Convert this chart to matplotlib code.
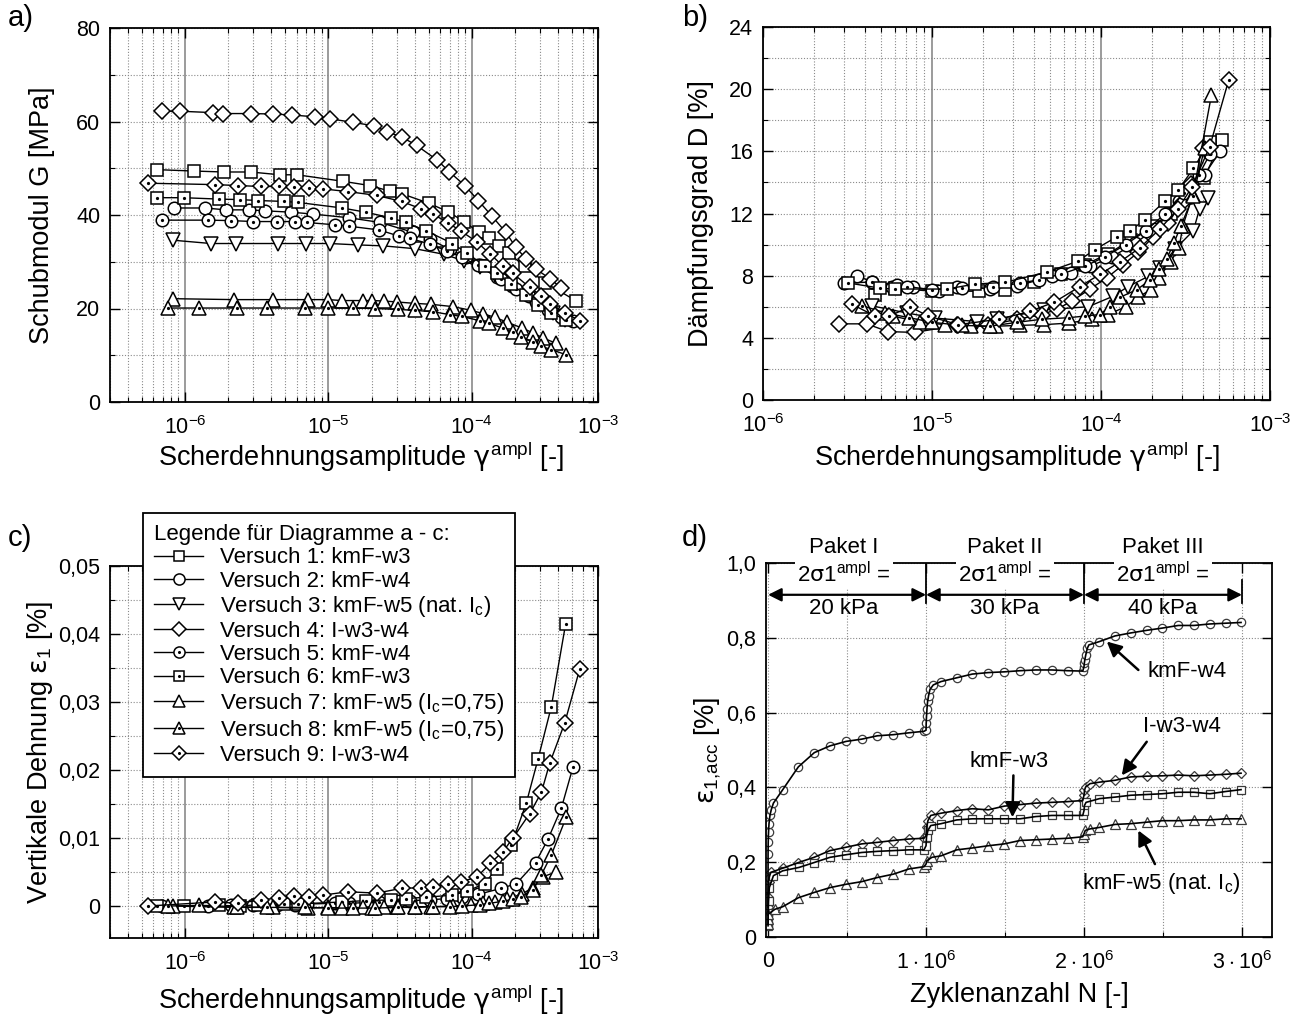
"""Recreate four-panel soil test figure (G, D, eps_1 vs. gamma_ampl; eps_acc vs. N)."""
import matplotlib
matplotlib.use("Agg")
import matplotlib.pyplot as plt
from matplotlib.ticker import FixedLocator, LogLocator, MultipleLocator, NullFormatter
import numpy as np

plt.rcParams['font.family'] = ['Liberation Sans', 'DejaVu Sans']
plt.rcParams['mathtext.fontset'] = 'custom'
plt.rcParams['mathtext.rm'] = 'Liberation Sans'
plt.rcParams['mathtext.it'] = 'DejaVu Sans'      # greek letters in math
plt.rcParams['mathtext.sf'] = 'Liberation Sans'
plt.rcParams['mathtext.bf'] = 'Liberation Sans:bold'

# ---------------- panel a / c : shear strain amplitude -----------------
g1 = [6.4e-7, 1.16e-6, 1.87e-6, 2.87e-6, 4.59e-6, 6.06e-6, 1.27e-5, 1.95e-5, 2.68e-5, 3.29e-5,
      5.04e-5, 6.84e-5, 8.84e-5, 1.12e-4, 1.31e-4, 1.54e-4, 1.82e-4, 2.34e-4, 3.26e-4, 5.37e-4]
G1 = [49.7, 49.4, 49.2, 49.2, 48.6, 48.6, 47.2, 46.3, 45.1, 44.5,
      42.5, 40.7, 38.6, 36.3, 35.0, 33.3, 31.8, 29.0, 25.5, 21.6]
g2 = [8.4e-7, 1.38e-6, 1.93e-6, 2.8e-6, 3.6e-6, 5.5e-6, 7.8e-6, 1.4e-5, 2.3e-5, 3.9e-5,
      5.1e-5, 7.0e-5, 9.1e-5, 1.14e-4, 1.49e-4, 1.9e-4, 2.5e-4, 3.4e-4, 4.2e-4]
G2 = [41.5, 41.5, 41.1, 41.1, 40.9, 40.6, 40.2, 39.4, 38.4, 36.3,
      34.8, 32.7, 31.0, 29.2, 26.7, 24.9, 22.6, 20.2, 18.7]
g3 = [8.3e-7, 1.52e-6, 2.27e-6, 4.47e-6, 6.97e-6, 1.02e-5, 1.61e-5, 2.41e-5, 4.0e-5, 6.4e-5,
      8.8e-5, 1.14e-4, 1.45e-4, 1.84e-4, 2.34e-4, 2.98e-4, 3.67e-4, 4.5e-4]
G3 = [34.6, 33.9, 33.9, 33.9, 33.9, 33.9, 33.6, 33.4, 32.8, 31.6,
      30.2, 28.8, 27.1, 25.2, 23.0, 20.9, 19.1, 17.6]
g4 = [6.9e-7, 9.2e-7, 1.56e-6, 1.85e-6, 2.87e-6, 4.08e-6, 5.54e-6, 8.05e-6, 1.02e-5, 1.49e-5,
      2.07e-5, 2.57e-5, 3.24e-5, 4.12e-5, 5.77e-5, 6.95e-5, 8.94e-5, 1.11e-4, 1.38e-4, 1.73e-4,
      2.03e-4, 2.41e-4, 2.82e-4, 3.5e-4, 4.22e-4]
G4 = [62.2, 62.2, 61.9, 61.7, 61.7, 61.6, 61.4, 61.0, 60.6, 59.8,
      59.1, 57.8, 56.7, 54.9, 51.7, 49.3, 46.3, 43.1, 39.8, 36.3,
      33.1, 30.5, 28.4, 26.4, 24.4]
g5 = [6.95e-7, 1.44e-6, 2.11e-6, 2.99e-6, 4.35e-6, 5.9e-6, 7.1e-6, 1.11e-5, 1.4e-5, 2.26e-5,
      3.1e-5, 3.7e-5, 5.1e-5, 6.7e-5, 8.5e-5, 1.1e-4, 1.61e-4, 2.05e-4, 2.79e-4, 3.4e-4,
      4.22e-4, 5.08e-4]
G5 = [38.9, 38.9, 38.8, 38.6, 38.6, 38.6, 38.4, 37.9, 37.6, 36.8,
      35.5, 35.0, 33.8, 32.3, 31.0, 29.2, 26.3, 24.2, 21.3, 19.6,
      18.2, 17.3]
eps5 = [0.0, 0.0, 0.0001, 0.0001, 0.0002, 0.0002, 0.0003, 0.0004, 0.0004, 0.0006,
        0.0007, 0.0008, 0.0009, 0.0011, 0.0013, 0.0017, 0.0026, 0.0033, 0.0064, 0.0098,
        0.0144, 0.0204]
g6 = [6.35e-7, 9.8e-7, 1.73e-6, 2.41e-6, 3.21e-6, 4.92e-6, 6.1e-6, 1.25e-5, 1.82e-5, 2.73e-5,
      3.47e-5, 4.83e-5, 7.34e-5, 9.33e-5, 1.23e-4, 1.49e-4, 1.89e-4, 2.4e-4, 2.9e-4, 3.59e-4,
      4.52e-4]
G6 = [43.7, 43.7, 43.4, 43.3, 43.1, 42.9, 42.7, 41.5, 40.6, 39.4,
      38.4, 36.6, 33.9, 31.8, 29.1, 27.5, 25.2, 22.8, 20.8, 19.0,
      17.6]
eps6 = [0.0, 0.0, 0.0001, 0.0, 0.0002, 0.0003, 0.0003, 0.0006, 0.0008, 0.0009,
        0.0011, 0.0013, 0.0016, 0.0022, 0.0033, 0.0055, 0.0090, 0.0151, 0.0216, 0.0293,
        0.0415]
g7 = [8.2e-7, 2.21e-6, 4.08e-6, 7.2e-6, 9.97e-6, 1.24e-5, 1.75e-5, 2.03e-5, 2.45e-5, 2.99e-5,
      4.0e-5, 5.2e-5, 7.4e-5, 9.95e-5, 1.2e-4, 1.45e-4, 1.76e-4, 2.25e-4, 2.67e-4, 3.14e-4,
      3.85e-4]
G7 = [22.1, 21.9, 21.9, 21.9, 21.9, 21.7, 21.7, 21.7, 21.6, 21.4,
      21.1, 20.9, 20.4, 19.6, 18.9, 18.1, 17.1, 15.8, 14.8, 13.7,
      12.6]
eps7 = [0.0, -0.0002, -0.0002, -0.0003, -0.0002, -0.0003, -0.0002, -0.0003, -0.0002, -0.0002,
        -0.0001, -0.0001, 0.0, 0.0002, 0.0004, 0.0006, 0.0010, 0.0018, 0.0027, 0.0043,
        0.0050]
g8 = [7.6e-7, 1.26e-6, 2.29e-6, 3.71e-6, 6.86e-6, 9.97e-6, 1.48e-5, 2.11e-5, 3.06e-5, 4.0e-5,
      5.37e-5, 7.0e-5, 8.5e-5, 1.14e-4, 1.33e-4, 1.65e-4, 1.94e-4, 2.22e-4, 2.67e-4, 3.06e-4,
      3.59e-4, 4.57e-4]
G8 = [20.1, 20.1, 20.1, 20.1, 20.1, 20.1, 20.1, 20.0, 19.8, 19.6,
      19.3, 18.7, 18.3, 17.4, 16.8, 15.8, 14.9, 14.0, 12.8, 11.9,
      11.2, 10.1]
eps8 = [0.0, 0.0001, -0.0001, -0.0002, -0.0002, -0.0003, -0.0003, -0.0003, -0.0002, -0.0002,
        -0.0001, -0.0001, 0.0, 0.0002, 0.0004, 0.0007, 0.0010, 0.0014, 0.0023, 0.0046,
        0.0075, 0.0131]
g9 = [5.5e-7, 1.62e-6, 2.35e-6, 3.37e-6, 4.54e-6, 5.75e-6, 7.35e-6, 9.12e-6, 1.37e-5, 2.17e-5,
      3.24e-5, 4.46e-5, 5.37e-5, 6.84e-5, 8.38e-5, 1.08e-4, 1.35e-4, 1.65e-4, 1.94e-4, 2.54e-4,
      3.06e-4, 3.5e-4, 4.45e-4, 5.66e-4]
G9 = [46.8, 46.5, 46.3, 46.1, 46.1, 46.0, 45.7, 45.6, 45.0, 44.2,
      42.9, 41.3, 40.2, 38.3, 36.6, 34.3, 31.6, 29.1, 27.5, 24.5,
      22.7, 20.9, 19.1, 17.4]
eps9 = [0.0, 0.0006, 0.0004, 0.0009, 0.0012, 0.0015, 0.0013, 0.0016, 0.0021, 0.0019,
        0.0026, 0.0027, 0.0028, 0.0033, 0.0036, 0.0042, 0.0063, 0.0080, 0.0100, 0.0136,
        0.0167, 0.0210, 0.0269, 0.0348]

# ---------------- panel b : damping ratio -----------------
gb1 = [4.6e-6, 6.0e-6, 1.0e-5, 1.9e-5, 2.7e-5, 4.0e-5, 5.8e-5, 8.0e-5, 1.1e-4, 1.5e-4,
       2.0e-4, 2.6e-4, 3.2e-4, 4.07e-4, 5.2e-4]
D1 = [6.75, 7.2, 7.0, 7.0, 7.1, 7.6, 8.1, 8.7, 9.4, 10.3, 11.2, 12.0, 13.0, 14.3, 16.7]
gb2 = [3.6e-6, 4.4e-6, 5.8e-6, 7.7e-6, 1.1e-5, 1.4e-5, 2.2e-5, 3.2e-5, 5.1e-5, 6.6e-5,
       8.6e-5, 1.16e-4, 1.59e-4, 2.1e-4, 2.9e-4, 4.1e-4, 5.06e-4]
D2 = [8.0, 7.6, 7.3, 7.25, 7.0, 7.3, 7.15, 7.35, 7.95, 8.2, 8.6, 9.2, 10.1, 11.0, 12.8, 14.5, 16.0]
gb3 = [4.4e-6, 7.1e-6, 1.04e-5, 1.84e-5, 2.42e-5, 4.6e-5, 8.4e-5, 1.17e-4, 1.45e-4, 1.9e-4,
       2.23e-4, 2.74e-4, 3.52e-4, 3.83e-4, 4.32e-4]
D3 = [6.06, 5.6, 5.27, 5.05, 5.2, 5.8, 6.0, 6.66, 7.3, 7.95, 8.5, 9.7, 10.9, 12.3, 13.0]
gb4 = [2.8e-6, 4.1e-6, 5.5e-6, 7.9e-6, 1.4e-5, 2.15e-5, 3.2e-5, 4.5e-5, 5.5e-5, 6.7e-5,
       8.6e-5, 1.08e-4, 1.35e-4, 1.66e-4, 2.04e-4, 2.5e-4, 3.0e-4, 3.4e-4, 4.0e-4]
D4 = [4.9, 4.9, 4.4, 4.35, 4.8, 4.8, 5.2, 5.5, 5.85, 6.35, 7.14, 7.85, 8.7, 9.5, 10.5, 11.4,
      12.7, 13.9, 16.2]
gb5 = [3.0e-6, 4.4e-6, 6.2e-6, 7.1e-6, 1.0e-5, 1.5e-5, 2.3e-5, 3.3e-5, 4.3e-5, 5.8e-5,
       8.0e-5, 1.05e-4, 1.4e-4, 1.85e-4, 2.4e-4, 3.1e-4, 3.8e-4, 4.4e-4]
D5 = [7.5, 7.6, 7.4, 7.3, 7.1, 7.2, 7.3, 7.5, 7.75, 8.1, 8.6, 9.2, 10.0, 10.9, 12.0, 13.3,
      14.5, 15.8]
gb6 = [3.2e-6, 4.9e-6, 6.0e-6, 1.22e-5, 1.8e-5, 2.7e-5, 4.8e-5, 7.3e-5, 9.2e-5, 1.24e-4,
       1.49e-4, 1.82e-4, 2.39e-4, 2.86e-4, 3.52e-4, 4.4e-4]
D6 = [7.53, 7.2, 7.14, 7.14, 7.46, 7.57, 8.24, 8.93, 9.68, 10.5, 10.9, 11.6, 12.8, 13.5,
      14.9, 16.6]
gb7 = [5.9e-6, 8.5e-6, 1.2e-5, 1.7e-5, 2.4e-5, 3.3e-5, 4.6e-5, 6.5e-5, 8.8e-5, 1.1e-4,
       1.4e-4, 1.65e-4, 1.97e-4, 2.2e-4, 2.58e-4, 2.9e-4, 3.05e-4, 3.5e-4, 4.5e-4]
D7 = [5.4, 5.0, 4.85, 4.75, 4.75, 4.8, 4.85, 4.95, 5.2, 5.5, 6.0, 6.6, 7.1, 7.85, 8.9, 9.8,
      11.2, 13.2, 19.6]
gb8 = [3.84e-6, 5.3e-6, 7.3e-6, 1.0e-5, 1.5e-5, 2.2e-5, 3.2e-5, 4.5e-5, 6.5e-5, 8.0e-5,
       9.8e-5, 1.13e-4, 1.29e-4, 1.63e-4, 1.94e-4, 2.2e-4, 2.45e-4, 2.7e-4, 2.97e-4, 3.5e-4,
       4.1e-4]
D8 = [6.08, 5.6, 5.3, 5.0, 4.8, 4.75, 5.0, 5.2, 5.3, 5.4, 5.5, 6.0, 6.6, 7.1, 7.7, 8.4,
      9.1, 10.1, 11.2, 13.1, 16.2]
gb9 = [3.35e-6, 4.6e-6, 5.6e-6, 7.4e-6, 9.5e-6, 1.43e-5, 2.5e-5, 3.8e-5, 5.3e-5, 7.5e-5,
       9.9e-5, 1.3e-4, 1.7e-4, 2.23e-4, 2.86e-4, 3.45e-4, 4.4e-4, 5.7e-4]
D9 = [6.17, 5.4, 5.4, 6.0, 5.4, 4.85, 5.2, 5.7, 6.3, 7.3, 8.1, 8.9, 9.8, 11.0, 12.3, 13.7,
      16.3, 20.6]

# ---------------- panel d : accumulated strain vs. cycles (N in 10^6) -----------------
N_w4 = [0.0, 0.0001, 0.001, 0.003, 0.006, 0.012, 0.020, 0.034, 0.093, 0.192, 0.293, 0.392,
        0.494, 0.593, 0.692, 0.793, 0.892, 0.987,
        1.0001, 1.001, 1.003, 1.006, 1.010, 1.016, 1.025, 1.046, 1.095, 1.194, 1.293, 1.394,
        1.496, 1.595, 1.694, 1.796, 1.897, 1.992,
        2.0001, 2.002, 2.005, 2.011, 2.021, 2.031, 2.098, 2.196, 2.296, 2.397, 2.496, 2.597,
        2.696, 2.797, 2.896, 2.994]
eps_w4 = [0.058, 0.222, 0.253, 0.280, 0.303, 0.325, 0.340, 0.358, 0.394, 0.455, 0.493, 0.511,
          0.523, 0.529, 0.538, 0.541, 0.546, 0.550,
          0.553, 0.571, 0.590, 0.610, 0.630, 0.645, 0.662, 0.674, 0.683, 0.693, 0.703, 0.707,
          0.709, 0.712, 0.714, 0.714, 0.712, 0.711,
          0.723, 0.732, 0.741, 0.754, 0.772, 0.781, 0.790, 0.805, 0.813, 0.820, 0.826, 0.833,
          0.833, 0.837, 0.839, 0.841]
N_iw = [0.0, 0.0001, 0.001, 0.003, 0.006, 0.018, 0.093, 0.192, 0.291, 0.392, 0.494, 0.593,
        0.692, 0.793, 0.892, 0.987,
        1.0001, 1.003, 1.012, 1.030, 1.095, 1.194, 1.293, 1.394, 1.496, 1.595, 1.694, 1.796,
        1.897, 1.992,
        2.0001, 2.003, 2.010, 2.038, 2.098, 2.196, 2.296, 2.397, 2.496, 2.597, 2.696, 2.797,
        2.896, 2.994]
eps_iw = [0.079, 0.106, 0.128, 0.146, 0.159, 0.173, 0.184, 0.199, 0.213, 0.231, 0.240, 0.249,
          0.253, 0.258, 0.262, 0.264,
          0.271, 0.293, 0.311, 0.325, 0.331, 0.338, 0.343, 0.340, 0.350, 0.354, 0.358, 0.360,
          0.362, 0.365,
          0.379, 0.392, 0.401, 0.410, 0.414, 0.419, 0.428, 0.430, 0.431, 0.433, 0.431, 0.433,
          0.435, 0.438]
N_w3 = [0.0, 0.0001, 0.001, 0.003, 0.008, 0.034, 0.093, 0.196, 0.291, 0.392, 0.494, 0.593,
        0.692, 0.793, 0.892, 0.987,
        1.0001, 1.003, 1.012, 1.030, 1.095, 1.194, 1.293, 1.394, 1.496, 1.595, 1.694, 1.796,
        1.897, 1.992,
        2.0001, 2.003, 2.013, 2.098, 2.196, 2.296, 2.397, 2.496, 2.597, 2.696, 2.797, 2.896,
        2.994]
eps_w3 = [0.030, 0.038, 0.065, 0.095, 0.132, 0.164, 0.177, 0.186, 0.199, 0.213, 0.220, 0.226,
          0.229, 0.231, 0.233, 0.233,
          0.244, 0.267, 0.285, 0.298, 0.303, 0.313, 0.316, 0.316, 0.316, 0.316, 0.322, 0.325,
          0.325, 0.325,
          0.338, 0.352, 0.360, 0.370, 0.374, 0.379, 0.381, 0.383, 0.387, 0.387, 0.383, 0.389,
          0.394]
N_w5 = [0.0, 0.0001, 0.001, 0.043, 0.093, 0.192, 0.291, 0.392, 0.494, 0.593, 0.692, 0.793,
        0.892, 0.987,
        1.0001, 1.005, 1.037, 1.095, 1.194, 1.293, 1.394, 1.496, 1.595, 1.694, 1.796, 1.897,
        1.992,
        2.0001, 2.008, 2.038, 2.098, 2.196, 2.296, 2.397, 2.496, 2.597, 2.696, 2.797, 2.896,
        2.994]
eps_w5 = [0.034, 0.048, 0.061, 0.074, 0.081, 0.105, 0.119, 0.132, 0.141, 0.148, 0.159, 0.168,
          0.182, 0.188,
          0.195, 0.204, 0.213, 0.217, 0.233, 0.238, 0.244, 0.249, 0.258, 0.260, 0.262, 0.264,
          0.268,
          0.276, 0.285, 0.289, 0.293, 0.301, 0.303, 0.307, 0.311, 0.311, 0.313, 0.313, 0.316,
          0.316]

LEGEND_LABELS = [
    'Versuch 1: kmF-w3',
    'Versuch 2: kmF-w4',
    'Versuch 3: kmF-w5 (nat. I$_\\mathrm{c}$)',
    'Versuch 4: I-w3-w4',
    'Versuch 5: kmF-w4',
    'Versuch 6: kmF-w3',
    'Versuch 7: kmF-w5 (I$_\\mathrm{c}$=0,75)',
    'Versuch 8: kmF-w5 (I$_\\mathrm{c}$=0,75)',
    'Versuch 9: I-w3-w4',
]
# marker, dotted centre
STYLE = {1: ('s', False), 2: ('o', False), 3: ('v', False), 4: ('D', False),
         5: ('o', True), 6: ('s', True), 7: ('^', False), 8: ('^', True), 9: ('D', True)}
MS = {'s': 8.5, 'o': 9, 'v': 9.5, '^': 9.5, 'D': 8}

TICK_FS = 15.5
LABEL_FS = 19.5
TEXT_FS = 16


def draw_series(ax, x, y, nr):
    m, dot = STYLE[nr]
    ln, = ax.plot(x, y, color='k', lw=1.0, marker=m, ms=MS[m], mfc='white', mec='k', mew=1.1)
    if dot:
        d, = ax.plot(x, y, ls='none', marker='.', ms=2.6, color='k')
        return (ln, d)
    return ln


def gamma_axis(ax, xmin, xmax, last_tick):
    ax.set_xscale('log')
    ax.set_xlim(xmin, xmax)
    ax.xaxis.set_major_locator(FixedLocator([1e-6, 1e-5, 1e-4, last_tick]))
    ax.set_xticklabels(['$10^{-6}$', '$10^{-5}$', '$10^{-4}$', '$10^{-3}$'])
    ax.xaxis.set_minor_locator(LogLocator(base=10, subs=np.arange(2, 10), numticks=30))
    ax.xaxis.set_minor_formatter(NullFormatter())
    ax.grid(which='major', axis='x', color='#8a8a8a', lw=1.2, ls='-')
    ax.grid(which='minor', axis='x', color='#8a8a8a', lw=0.8, ls=(0, (1, 1.6)))
    ax.set_xlabel('Scherdehnungsamplitude $\\gamma^{\\mathrm{ampl}}$ [-]', fontsize=LABEL_FS)


def common_style(ax):
    ax.grid(which='both', axis='y', color='#8a8a8a', lw=0.8, ls=(0, (1, 1.6)))
    ax.set_axisbelow(True)
    ax.tick_params(which='both', direction='in', top=True, right=True, labelsize=TICK_FS)
    ax.tick_params(which='major', length=7, width=1.0, pad=7)
    ax.tick_params(axis='x', which='major', pad=10)
    ax.tick_params(which='minor', length=3.5, width=0.8)
    for s in ax.spines.values():
        s.set_linewidth(1.3)


W, H = 1297, 1015
fig = plt.figure(figsize=(W / 100, H / 100), dpi=100)


def px_axes(left, top, right, bottom):
    return fig.add_axes([left / W, 1 - bottom / H, (right - left) / W, (bottom - top) / H])


# ---- a) shear modulus
ax_a = px_axes(110, 28, 598, 402)
gamma_axis(ax_a, 3.0e-7, 7.6e-4, 7.6e-4)
ax_a.set_ylim(0, 80)
ax_a.yaxis.set_major_locator(MultipleLocator(20))
ax_a.yaxis.set_minor_locator(MultipleLocator(10))
common_style(ax_a)
for nr, (x, y) in {1: (g1, G1), 2: (g2, G2), 3: (g3, G3), 4: (g4, G4), 5: (g5, G5),
                   6: (g6, G6), 7: (g7, G7), 8: (g8, G8), 9: (g9, G9)}.items():
    draw_series(ax_a, x, y, nr)
ax_a.set_ylabel('Schubmodul G [MPa]', fontsize=LABEL_FS)
ax_a.yaxis.set_label_coords(-0.112, 0.5)
ax_a.xaxis.set_label_coords(0.515, -0.1)

# ---- b) damping
ax_b = px_axes(763, 27, 1270, 400)
gamma_axis(ax_b, 1e-6, 1e-3, 1e-3)
ax_b.set_ylim(0, 24)
ax_b.yaxis.set_major_locator(MultipleLocator(4))
ax_b.yaxis.set_minor_locator(MultipleLocator(2))
common_style(ax_b)
for nr, (x, y) in {1: (gb1, D1), 2: (gb2, D2), 3: (gb3, D3), 4: (gb4, D4), 5: (gb5, D5),
                   6: (gb6, D6), 7: (gb7, D7), 8: (gb8, D8), 9: (gb9, D9)}.items():
    draw_series(ax_b, x, y, nr)
ax_b.set_ylabel('Dämpfungsgrad D [%]', fontsize=LABEL_FS)
ax_b.yaxis.set_label_coords(-0.097, 0.5)
ax_b.xaxis.set_label_coords(0.5, -0.105)

# ---- c) vertical strain
ax_c = px_axes(110, 566, 598, 938)
gamma_axis(ax_c, 3.0e-7, 7.6e-4, 7.6e-4)
ax_c.set_ylim(-0.0047, 0.05)
ax_c.yaxis.set_major_locator(FixedLocator([0, 0.01, 0.02, 0.03, 0.04, 0.05]))
ax_c.set_yticklabels(['0', '0,01', '0,02', '0,03', '0,04', '0,05'])
ax_c.yaxis.set_minor_locator(FixedLocator([0.005, 0.015, 0.025, 0.035, 0.045]))
common_style(ax_c)
for nr, (x, y) in {5: (g5, eps5), 6: (g6, eps6), 7: (g7, eps7), 8: (g8, eps8),
                   9: (g9, eps9)}.items():
    draw_series(ax_c, x, y, nr)
ax_c.set_ylabel('Vertikale Dehnung $\\varepsilon_1$ [%]', fontsize=LABEL_FS)
ax_c.yaxis.set_label_coords(-0.112, 0.5)
ax_c.xaxis.set_label_coords(0.515, -0.12)

# legend for a - c (handles only for the key)
handles = []
for nr in range(1, 10):
    m, dot = STYLE[nr]
    ln, = ax_c.plot([], [], color='k', lw=1.0, marker=m, ms=MS[m] - 1.0, mfc='white',
                    mec='k', mew=1.1)
    if dot:
        d, = ax_c.plot([], [], ls='none', marker='.', ms=2.4, color='k')
        handles.append((ln, d))
    else:
        handles.append(ln)
leg = fig.legend(handles, LEGEND_LABELS, loc='upper left',
                 bbox_to_anchor=(143 / W, 1 - 513 / H), bbox_transform=fig.transFigure,
                 title='Legende für Diagramme a - c:', title_fontsize=16,
                 fontsize=16, frameon=True, fancybox=False, edgecolor='k',
                 framealpha=1, borderaxespad=0, handlelength=2.2, handletextpad=0.75,
                 labelspacing=0.1, borderpad=0.5, alignment='left')
leg.get_frame().set_linewidth(1.3)

# ---- d) accumulated strain
ax_d = px_axes(766, 563, 1272, 937)
ax_d.set_xlim(-0.013, 3.19)
ax_d.set_ylim(0, 1.0)
ax_d.xaxis.set_major_locator(FixedLocator([0, 1, 2, 3]))
ax_d.set_xticklabels(['0', '$1\\cdot10^{6}$', '$2\\cdot10^{6}$', '$3\\cdot10^{6}$'])
ax_d.xaxis.set_minor_locator(FixedLocator([0.5, 1.5, 2.5]))
ax_d.set_yticks([0, 0.2, 0.4, 0.6, 0.8, 1.0])
ax_d.set_yticklabels(['0', '0,2', '0,4', '0,6', '0,8', '1,0'])
common_style(ax_d)
ax_d.grid(which='both', axis='x', color='#8a8a8a', lw=0.8, ls=(0, (1, 1.6)))
for x, y, m, ms in [(N_w4, eps_w4, 'o', 6), (N_iw, eps_iw, 'D', 5.5),
                    (N_w3, eps_w3, 's', 5.5), (N_w5, eps_w5, '^', 6.5)]:
    ax_d.plot(x, y, ls='none', marker=m, ms=ms, mfc='white', mec='#3a3a3a', mew=0.9, zorder=2)
    ax_d.plot(x, y, color='k', lw=1.2, zorder=3)
ax_d.set_xlabel('Zyklenanzahl N [-]', fontsize=LABEL_FS)
ax_d.xaxis.set_label_coords(0.5, -0.12)
ax_d.set_ylabel('$\\varepsilon_{1{,}\\mathrm{acc}}$ [%]', fontsize=LABEL_FS)
ax_d.yaxis.set_label_coords(-0.085, 0.5)

# package annotations
for xc, pk, kpa in [(0.48, 'Paket I', '20 kPa'), (1.5, 'Paket II', '30 kPa'),
                    (2.5, 'Paket III', '40 kPa')]:
    ax_d.text(xc, 1.042, pk, ha='center', va='center', fontsize=TEXT_FS, clip_on=False)
    ax_d.text(xc, 0.969, '2$\\sigma$1$^{\\mathrm{ampl}}$ =', ha='center', va='center',
              fontsize=TEXT_FS, zorder=6,
              bbox=dict(facecolor='white', edgecolor='none', pad=1.5))
    ax_d.text(xc, 0.878, kpa, ha='center', va='center', fontsize=TEXT_FS, zorder=6)
for x0, x1 in [(0, 1), (1, 2), (2, 3)]:
    ax_d.annotate('', xy=(x1, 0.915), xytext=(x0, 0.915),
                  arrowprops=dict(arrowstyle='<|-|>', color='k', lw=1.6,
                                  mutation_scale=20, shrinkA=0, shrinkB=0), zorder=6)
for xv, ytop in [(1, 1.0), (2, 1.0), (3, 0.955)]:
    ax_d.plot([xv, xv], [ytop, 0.893], color='k', lw=1.3, zorder=6)

# curve labels with arrows
for txt, tpos, tail, tip in [
        ('kmF-w4', (2.652, 0.709), (2.344, 0.714), (2.144, 0.790)),
        ('I-w3-w4', (2.623, 0.564), (2.397, 0.522), (2.239, 0.432)),
        ('kmF-w3', (1.525, 0.470), (1.553, 0.432), (1.547, 0.320)),
        ('kmF-w5 (nat. I$_\\mathrm{c}$)', (2.487, 0.143), (2.449, 0.195), (2.344, 0.285))]:
    ax_d.text(*tpos, txt, ha='center', va='center', fontsize=TEXT_FS, zorder=6)
    ax_d.annotate('', xy=tip, xytext=tail,
                  arrowprops=dict(arrowstyle='-|>', color='k', lw=1.8,
                                  mutation_scale=22, shrinkA=0, shrinkB=0), zorder=6)

# panel letters
for lbl, xp, yp in [('a)', 8, 4), ('b)', 682, 4), ('c)', 8, 524), ('d)', 682, 524)]:
    fig.text(xp / W, 1 - yp / H, lbl, ha='left', va='top', fontsize=21)

fig.savefig('out.png', dpi=100)
